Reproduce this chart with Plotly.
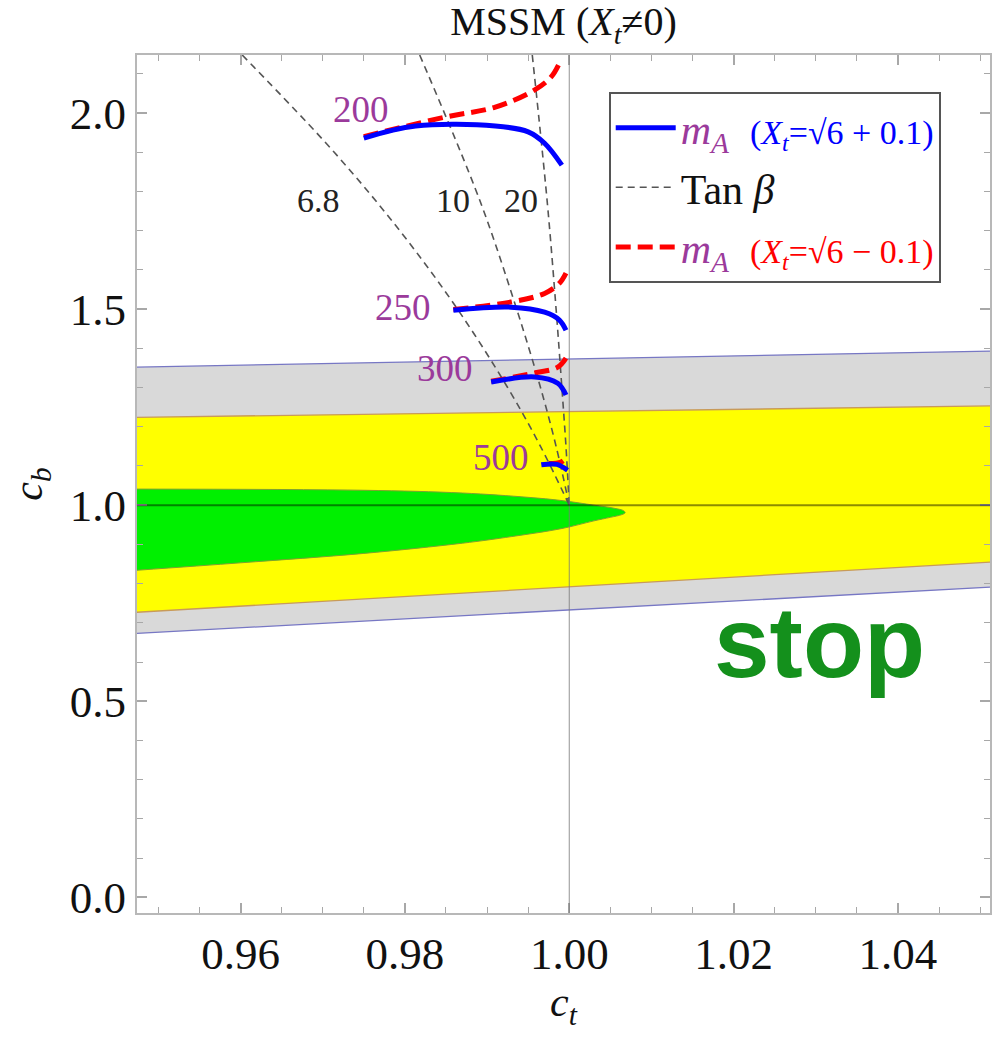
import plotly.graph_objects as go

# ---- data -------------------------------------------------------------
X_RANGE = [0.9474, 1.0512]
Y_RANGE = [-0.04, 2.148]

band_ct = [0.9474, 1.0512]
gray_top = [1.352, 1.393]
gray_bot = [0.673, 0.791]
yellow_top = [1.224, 1.253]
yellow_bot = [0.727, 0.855]

green_ct = [0.9474, 0.9750, 0.9870, 0.9950, 0.9990, 1.0030, 1.0055, 1.0066, 1.0068,
            1.0064, 1.0050, 1.0030, 0.9990, 0.9930, 0.9870, 0.9750, 0.9600, 0.9474]
green_cb = [1.041, 1.038, 1.031, 1.020, 1.012, 1.000, 0.992, 0.986, 0.981,
            0.976, 0.969, 0.960, 0.940, 0.920, 0.903, 0.877, 0.853, 0.834]

# tan(beta) contours
tanb_labels = ["6.8", "10", "20"]
tanb_ct = [
    [0.9602, 0.9714, 0.9796, 0.9864, 0.9925, 0.9965, 1.0000],
    [0.9818, 0.9891, 0.9936, 0.9965, 0.9984, 1.0000],
    [0.9955, 0.9973, 0.9984, 0.9991, 0.9996, 1.0000],
]
tanb_cb = [
    [2.148, 1.900, 1.694, 1.500, 1.300, 1.150, 1.000],
    [2.148, 1.778, 1.500, 1.300, 1.150, 1.000],
    [2.148, 1.778, 1.500, 1.300, 1.150, 1.000],
]
tanb_label_ct = [0.9695, 0.9859, 0.9941]
tanb_label_cb = [1.778, 1.778, 1.778]

# m_A contours
mA_labels = ["200", "250", "300", "500"]
mA_label_ct = [0.9746, 0.9798, 0.9849, 0.9917]
mA_label_cb = [2.008, 1.503, 1.349, 1.122]

blue_ct = [
    [0.9750, 0.9813, 0.9910, 0.9950, 0.9970, 0.9991],
    [0.9859, 0.9929, 0.9970, 0.9988, 0.9996],
    [0.9905, 0.9958, 0.9986, 0.9996],
    [0.9966, 0.9985, 0.9998],
]
blue_cb = [
    [1.936, 1.967, 1.967, 1.952, 1.923, 1.867],
    [1.497, 1.505, 1.492, 1.472, 1.446],
    [1.314, 1.327, 1.311, 1.281],
    [1.103, 1.104, 1.089],
]
red_ct = [
    [0.9750, 0.9850, 0.9910, 0.9958, 0.9978, 0.9988],
    [0.9859, 0.9929, 0.9970, 0.9988, 0.9996],
    [0.9905, 0.9958, 0.9986, 0.9996],
    [0.9975, 0.9990, 0.9997],
]
red_cb = [
    [1.940, 1.990, 2.015, 2.059, 2.092, 2.127],
    [1.499, 1.518, 1.540, 1.566, 1.592],
    [1.316, 1.337, 1.352, 1.375],
    [1.106, 1.110, 1.122],
]

x_ticks = [0.96, 0.98, 1.00, 1.02, 1.04]
x_ticktext = ["0.96", "0.98", "1.00", "1.02", "1.04"]
y_ticks = [0.0, 0.5, 1.0, 1.5, 2.0]
y_ticktext = ["0.0", "0.5", "1.0", "1.5", "2.0"]

# ---- styling ------------------------------------------------------------
SERIF = "Liberation Serif"
PURPLE = "#9b3a9b"
BLUE = "#0000ff"
RED = "#ff0000"

fig = go.Figure()


def band(top, bot, fill, top_line, bot_line):
    fig.add_trace(go.Scatter(
        x=band_ct + band_ct[::-1], y=bot + top[::-1],
        fill="toself", fillcolor=fill, mode="none",
        showlegend=False, hoverinfo="skip"))
    fig.add_trace(go.Scatter(x=band_ct, y=top, mode="lines",
                             line=dict(color=top_line, width=1.3),
                             showlegend=False, hoverinfo="skip"))
    fig.add_trace(go.Scatter(x=band_ct, y=bot, mode="lines",
                             line=dict(color=bot_line, width=1.3),
                             showlegend=False, hoverinfo="skip"))


band(gray_top, gray_bot, "#d9d9d9", "#7777c4", "#7777c4")
band(yellow_top, yellow_bot, "#ffff00", "#c89a5a", "#c89a5a")

fig.add_trace(go.Scatter(
    x=green_ct, y=green_cb, fill="toself", fillcolor="#00f000",
    mode="lines", line=dict(color="#7fa030", width=1, shape="spline"),
    showlegend=False, hoverinfo="skip"))

# reference lines at c_t = 1 and c_b = 1
fig.add_vline(x=1.0, line=dict(color="rgba(120,120,120,0.8)", width=1))
fig.add_hline(y=1.0, line=dict(color="rgba(0,0,0,0.45)", width=2))

# tan(beta) contours
for i, (cx, cy) in enumerate(zip(tanb_ct, tanb_cb)):
    fig.add_trace(go.Scatter(
        x=cx, y=cy, mode="lines",
        line=dict(color="#555555", width=1.6, dash="7px,5px", shape="spline"),
        name="Tan <i>β</i>", legendgroup="tanb", legendrank=2,
        showlegend=(i == 0), hoverinfo="skip"))

leg_blue = ("<i><span style='color:%s'>m<sub>A</sub></span></i>  "
            "<span style='font-size:34px;color:%s'>(<i>X<sub>t</sub></i>=√6 + 0.1)</span>"
            % (PURPLE, BLUE))
leg_red = ("<i><span style='color:%s'>m<sub>A</sub></span></i>  "
           "<span style='font-size:34px;color:%s'>(<i>X<sub>t</sub></i>=√6 − 0.1)</span>"
           % (PURPLE, RED))

for i, (cx, cy) in enumerate(zip(red_ct, red_cb)):
    fig.add_trace(go.Scatter(
        x=cx, y=cy, mode="lines",
        line=dict(color=RED, width=5, dash="15px,7px", shape="spline"),
        name=leg_red, legendgroup="red", legendrank=3,
        showlegend=(i == 0), hoverinfo="skip"))

for i, (cx, cy) in enumerate(zip(blue_ct, blue_cb)):
    fig.add_trace(go.Scatter(
        x=cx, y=cy, mode="lines",
        line=dict(color=BLUE, width=5, shape="spline"),
        name=leg_blue, legendgroup="blue", legendrank=1,
        showlegend=(i == 0), hoverinfo="skip"))

# contour labels
for t, cx, cy in zip(tanb_labels, tanb_label_ct, tanb_label_cb):
    fig.add_annotation(x=cx, y=cy, text=t, showarrow=False,
                       font=dict(family=SERIF, size=34, color="#222222"))
for t, cx, cy in zip(mA_labels, mA_label_ct, mA_label_cb):
    fig.add_annotation(x=cx, y=cy, text=t, showarrow=False,
                       font=dict(family=SERIF, size=37, color=PURPLE))

fig.add_annotation(x=1.0305, y=0.652, text="<b>stop</b>", showarrow=False,
                   font=dict(family="Liberation Sans", size=100, color="#14901c"))

axis_common = dict(
    showline=True, linecolor="#b8b8b8", linewidth=2, mirror="ticks",
    ticks="inside", tickcolor="#a8a8a8", ticklen=10, tickwidth=1.5,
    showgrid=False, zeroline=False,
    tickfont=dict(family=SERIF, size=45, color="#111111"),
)

fig.update_xaxes(
    range=X_RANGE, tickvals=x_ticks, ticktext=x_ticktext,
    minor=dict(ticks="inside", dtick=0.005, tick0=0.96, ticklen=6,
               tickcolor="#a8a8a8", tickwidth=1.2),
    title=dict(text="<i>c<sub>t</sub></i>", standoff=0,
               font=dict(family=SERIF, size=42, color="#111111")),
    **axis_common)
fig.update_yaxes(
    range=Y_RANGE, tickvals=y_ticks, ticktext=y_ticktext,
    minor=dict(ticks="inside", dtick=0.1, tick0=0.0, ticklen=6,
               tickcolor="#a8a8a8", tickwidth=1.2),
    title=dict(text="<i>c<sub>b</sub></i>", standoff=14,
               font=dict(family=SERIF, size=42, color="#111111")),
    **axis_common)

fig.update_layout(
    width=994, height=1049,
    margin=dict(l=137, r=2, t=55, b=136),
    paper_bgcolor="white", plot_bgcolor="white",
    font=dict(family=SERIF),
    title=dict(text="MSSM (<i>X<sub>t</sub></i>≠0)", x=0.5, xref="paper",
               y=0.993, yanchor="top",
               font=dict(family=SERIF, size=40, color="#111111")),
    legend=dict(x=0.553, y=0.957, xanchor="left", yanchor="top",
                bgcolor="white", bordercolor="#555555", borderwidth=2,
                font=dict(family=SERIF, size=42, color="#111111"),
                itemwidth=60, tracegroupgap=2, traceorder="grouped"),
)

fig.write_html("out.html")
